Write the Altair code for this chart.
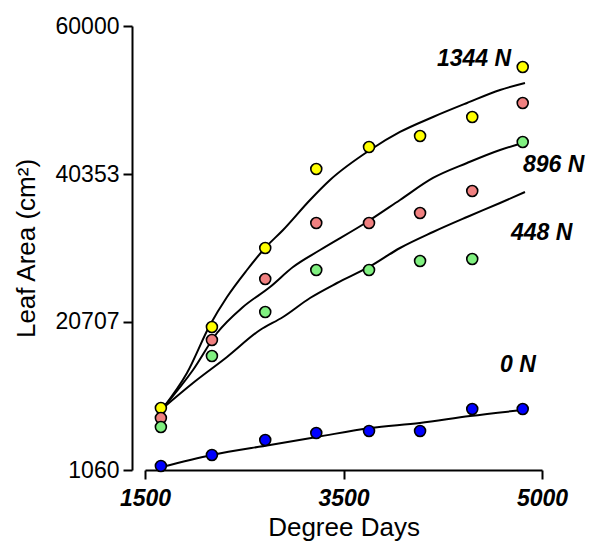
import altair as alt
import pandas as pd

# Observed data (degree days vs leaf area, cm^2)
degree_days = [1640, 2090, 2560, 3010, 3475, 3925, 4385, 4830]
leaf_1344N = [9290, 20043, 30530, 41020, 43940, 45400, 47920, 54560]
leaf_896N = [7960, 18320, 26415, 33850, 33850, 35180, 38100, 49780]
leaf_448N = [6770, 16190, 22035, 27610, 27610, 28805, 29070, 44600]
leaf_0N = [1590, 3050, 5040, 5970, 6240, 6240, 9160, 9160]

# Fitted curves
fit_1344N_x = [1659, 1870, 2073, 2223, 2399, 2558, 2717, 2955, 3131, 3484, 3748, 4039, 4339, 4630, 4850]
fit_1344N_y = [9290, 13937, 20309, 24026, 27610, 30530, 32920, 36903, 39558, 43540, 45930, 47920, 49780, 51505, 52434]
fit_896N_x = [1659, 1923, 2135, 2364, 2602, 2805, 3043, 3457, 3748, 4039, 4339, 4630, 4832]
fit_896N_y = [9290, 14335, 19247, 22698, 25353, 28008, 30265, 33982, 36903, 39823, 41814, 43540, 44469]
fit_448N_x = [1659, 1923, 2223, 2514, 2717, 2955, 3193, 3475, 3748, 4039, 4339, 4630, 4850]
fit_448N_y = [9290, 12609, 16061, 19645, 21371, 23893, 25884, 28008, 30530, 32655, 34646, 36504, 37965]
fit_0N_x = [1650, 2091, 2602, 3016, 3484, 3924, 4365, 4832]
fit_0N_y = [1458, 3051, 4379, 5441, 6636, 7299, 8229, 9025]

series_names = ["1344 N", "896 N", "448 N", "0 N"]
series_colors = ["#FFFF00", "#F08080", "#80F080", "#0000FF"]

label_text = ["1344 N", "896 N", "448 N", "0 N"]
label_x = [4074, 4832, 4727, 4630]
label_y = [55620, 41549, 32522, 15000]

y_ticks = [1060, 20707, 40353, 60000]
x_ticks = [1500, 3250, 5000]
x_tick_text = ["1500", "3500", "5000"]

obs = []
for name, vals in zip(series_names, [leaf_1344N, leaf_896N, leaf_448N, leaf_0N]):
    for x, y in zip(degree_days, vals):
        obs.append({"series": name, "x": x, "y": y})
obs_df = pd.DataFrame(obs)

fits = []
for name, xs, ys in zip(series_names,
                        [fit_1344N_x, fit_896N_x, fit_448N_x, fit_0N_x],
                        [fit_1344N_y, fit_896N_y, fit_448N_y, fit_0N_y]):
    for i, (x, y) in enumerate(zip(xs, ys)):
        fits.append({"series": name, "x": x, "y": y, "order": i})
fit_df = pd.DataFrame(fits)

lab_df = pd.DataFrame({"text": label_text, "x": label_x, "y": label_y})

label_map = " : ".join(
    f"datum.value == {v} ? '{t}'" for v, t in zip(x_ticks, x_tick_text)
) + " : datum.label"

FONT = "Liberation Sans"

xscale = alt.Scale(domain=[1500, 5000], nice=False, zero=False)
yscale = alt.Scale(domain=[1060, 60000], nice=False, zero=False)

x_enc = alt.X("x:Q", scale=xscale, axis=alt.Axis(
    title="Degree Days", values=x_ticks, labelExpr=label_map, format="d",
    labelFont=FONT, labelFontSize=23, labelFontWeight="bold", labelFontStyle="italic",
    labelColor="black", labelPadding=8,
    titleFont=FONT, titleFontSize=26, titleFontWeight="normal", titleColor="black",
    titlePadding=4,
    domainColor="black", domainWidth=2, tickColor="black", tickWidth=2, tickSize=9,
    grid=False, labelFlush=False, labelOverlap=False))
y_enc = alt.Y("y:Q", scale=yscale, axis=alt.Axis(
    title="Leaf Area (cm²)", values=y_ticks, format="d",
    labelFont=FONT, labelFontSize=23, labelColor="black", labelPadding=4,
    titleFont=FONT, titleFontSize=26, titleFontWeight="normal", titleColor="black",
    titlePadding=16, offset=13,
    domainColor="black", domainWidth=2, tickColor="black", tickWidth=2, tickSize=9,
    grid=False, labelFlush=False, labelOverlap=False))

color_scale = alt.Scale(domain=series_names, range=series_colors)

lines = alt.Chart(fit_df).mark_line(color="black", strokeWidth=2, interpolate="monotone").encode(
    x=x_enc, y=y_enc, detail="series:N", order="order:Q")

points = alt.Chart(obs_df).mark_circle(size=120, opacity=1, stroke="black", strokeWidth=1.6).encode(
    x="x:Q", y="y:Q",
    fill=alt.Fill("series:N", scale=color_scale, legend=None))

labels = alt.Chart(lab_df).mark_text(
    align="left", baseline="middle", font=FONT, fontSize=23,
    fontWeight="bold", fontStyle="italic", color="black").encode(
    x="x:Q", y="y:Q", text="text:N")

chart = alt.layer(lines, points, labels).properties(
    width=397, height=444,
    autosize=alt.AutoSizeParams(type="none"),
    padding={"left": 145, "top": 26, "right": 50, "bottom": 80},
    background="white",
).configure_view(stroke=None)

chart.save("out.html", embed_options={"renderer": "svg", "actions": False})
